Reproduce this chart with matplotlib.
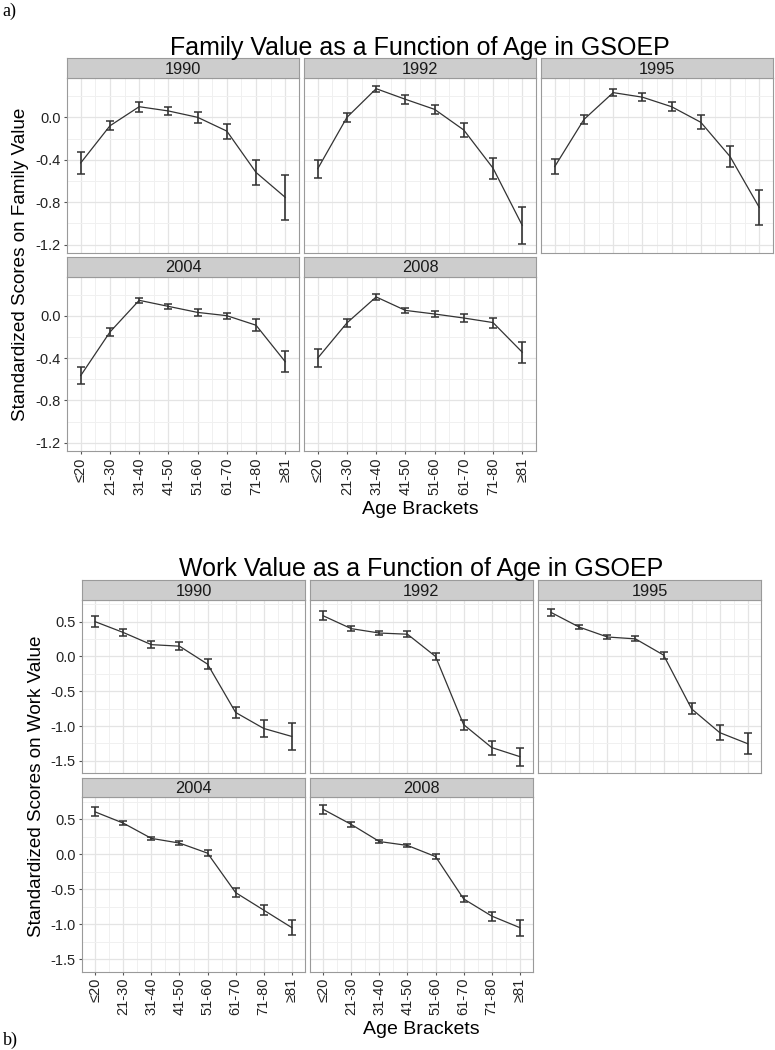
import numpy as np
import matplotlib
matplotlib.use("Agg")
from matplotlib import pyplot as plt
from matplotlib.ticker import MultipleLocator

plt.rcParams['font.family'] = ['Liberation Sans', 'DejaVu Sans']

# age brackets shown on the x axis
age_labels = ["≤20", "21-30", "31-40", "41-50", "51-60", "61-70", "71-80", "≥81"]
years = ["1990", "1992", "1995", "2004", "2008"]

# family value: means and half-width of error bars, per wave
fam_1990 = [-0.43, -0.08, 0.10, 0.06, 0.00, -0.13, -0.52, -0.755]
fam_1990_err = [0.10, 0.043, 0.047, 0.04, 0.05, 0.07, 0.115, 0.215]
fam_1992 = [-0.485, 0.00, 0.27, 0.17, 0.075, -0.12, -0.48, -1.02]
fam_1992_err = [0.085, 0.04, 0.03, 0.04, 0.045, 0.07, 0.10, 0.175]
fam_1995 = [-0.465, -0.02, 0.233, 0.19, 0.10, -0.047, -0.37, -0.85]
fam_1995_err = [0.07, 0.04, 0.03, 0.035, 0.04, 0.065, 0.095, 0.165]
fam_2004 = [-0.565, -0.154, 0.145, 0.088, 0.031, 0.0, -0.09, -0.435]
fam_2004_err = [0.08, 0.035, 0.025, 0.022, 0.032, 0.03, 0.055, 0.10]
fam_2008 = [-0.40, -0.068, 0.177, 0.05, 0.016, -0.022, -0.065, -0.345]
fam_2008_err = [0.085, 0.035, 0.032, 0.025, 0.03, 0.038, 0.047, 0.10]

# work value: means and half-width of error bars, per wave
work_1990 = [0.50, 0.345, 0.17, 0.148, -0.11, -0.805, -1.035, -1.15]
work_1990_err = [0.078, 0.045, 0.05, 0.06, 0.067, 0.085, 0.125, 0.19]
work_1992 = [0.585, 0.40, 0.337, 0.32, 0.0, -0.98, -1.31, -1.44]
work_1992_err = [0.065, 0.032, 0.035, 0.04, 0.05, 0.072, 0.10, 0.13]
work_1995 = [0.632, 0.422, 0.28, 0.253, 0.02, -0.754, -1.095, -1.255]
work_1995_err = [0.055, 0.03, 0.03, 0.035, 0.05, 0.08, 0.11, 0.15]
work_2004 = [0.603, 0.443, 0.225, 0.158, 0.014, -0.55, -0.80, -1.05]
work_2004_err = [0.065, 0.027, 0.025, 0.033, 0.04, 0.06, 0.073, 0.11]
work_2008 = [0.64, 0.424, 0.18, 0.124, -0.035, -0.64, -0.885, -1.05]
work_2008_err = [0.068, 0.032, 0.027, 0.026, 0.031, 0.042, 0.065, 0.113]

family = [(fam_1990, fam_1990_err), (fam_1992, fam_1992_err), (fam_1995, fam_1995_err),
          (fam_2004, fam_2004_err), (fam_2008, fam_2008_err)]
work = [(work_1990, work_1990_err), (work_1992, work_1992_err), (work_1995, work_1995_err),
        (work_2004, work_2004_err), (work_2008, work_2008_err)]

W, H = 775, 1050
fig = plt.figure(figsize=(W / 100, H / 100), dpi=100)


def box(l, t, r, b):
    # pixel box -> figure fraction
    return [l / W, 1 - b / H, (r - l) / W, (b - t) / H]


BORDER = "#9a9a9a"


def draw_block(data, cols, rows, strips, ylim, major, minor, title, title_y, ylab, ylab_x, xlab_y):
    x = np.arange(1, len(age_labels) + 1)
    for i, (mean, err) in enumerate(data):
        r, c = divmod(i, 3)
        l, rr = cols[c]
        t, b = rows[r]
        ax = fig.add_axes(box(l, t, rr, b))
        ax.set_xlim(0.53, 8.47)
        ax.set_ylim(*ylim)
        ax.yaxis.set_major_locator(MultipleLocator(major))
        ax.yaxis.set_minor_locator(MultipleLocator(minor))
        ax.set_xticks(x)
        ax.set_xticks(x[:-1] + 0.5, minor=True)
        ax.grid(which="major", color="#e4e4e4", lw=0.9)
        ax.grid(which="minor", color="#f0f0f0", lw=0.7)
        ax.set_axisbelow(True)
        ax.errorbar(x, mean, yerr=err, color="#333333", lw=0.9, elinewidth=1.2,
                    capsize=3.2, capthick=1.1, zorder=3)
        for s in ax.spines.values():
            s.set_color(BORDER)
        ax.tick_params(which="minor", length=0)
        ax.tick_params(which="major", length=2.5, color="#555555", labelsize=10.5,
                       labelcolor="#222222", pad=2)
        if c == 0:
            ax.set_yticklabels(["%.1f" % v for v in ax.get_yticks()])
        else:
            ax.tick_params(axis="y", labelleft=False, length=0)
        if r == 1:
            ax.set_xticklabels(age_labels, rotation=90)
        else:
            ax.tick_params(axis="x", labelbottom=False, length=0)
        # facet strip
        st, sb = strips[r]
        sax = fig.add_axes(box(l, st, rr, sb))
        sax.set_facecolor("#cdcdcd")
        sax.set_xticks([])
        sax.set_yticks([])
        for s in sax.spines.values():
            s.set_color(BORDER)
        sax.text(0.5, 0.45, years[i], ha="center", va="center", fontsize=11.8,
                 color="#1a1a1a", transform=sax.transAxes)
    cx = (cols[0][0] + cols[2][1]) / 2 / W
    fig.text(cx, 1 - title_y / H, title, ha="center", va="baseline", fontsize=18)
    fig.text(ylab_x / W, 1 - (rows[0][0] + rows[1][1]) / 2 / H, ylab, rotation=90,
             ha="center", va="center", fontsize=13.6)
    fig.text(cx, 1 - xlab_y / H, "Age Brackets", ha="center", va="baseline", fontsize=14)


draw_block(family,
           cols=[(67, 299), (304, 536), (541, 773)],
           rows=[(78.3, 252.7), (276.7, 451)],
           strips=[(58.3, 78.3), (256.7, 276.7)],
           ylim=(-1.277, 0.368), major=0.4, minor=0.2,
           title="Family Value as a Function of Age in GSOEP", title_y=55,
           ylab="Standardized Scores on Family Value", ylab_x=21, xlab_y=514)

draw_block(work,
           cols=[(82, 305), (310, 533), (538, 761)],
           rows=[(600, 773.3), (797.3, 971.7)],
           strips=[(580, 600), (778, 797.3)],
           ylim=(-1.68, 0.812), major=0.5, minor=0.25,
           title="Work Value as a Function of Age in GSOEP", title_y=576,
           ylab="Standardized Scores on Work Value", ylab_x=37, xlab_y=1034)

fig.text(2 / W, 1 - 11 / H, "a)", family="Liberation Serif", fontsize=13, ha="left", va="center")
fig.text(3 / W, 1 - 1040 / H, "b)", family="Liberation Serif", fontsize=13, ha="left", va="center")

fig.savefig("out.png", dpi=100)
